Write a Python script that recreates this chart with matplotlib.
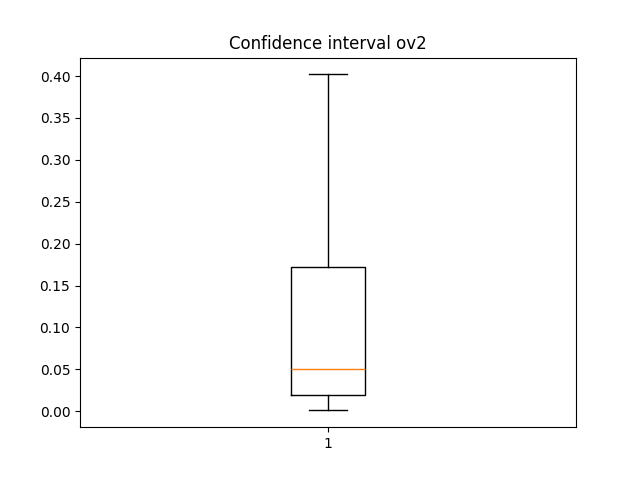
import matplotlib
import matplotlib.pyplot as plt

matplotlib.use('Agg')

# box statistics
labels = ["1"]
whisker_low = [0.001]
q1 = [0.019]
median = [0.051]
q3 = [0.172]
whisker_high = [0.402]

stats = []
for i in range(len(labels)):
    stats.append({
        "label": labels[i],
        "whislo": whisker_low[i],
        "q1": q1[i],
        "med": median[i],
        "q3": q3[i],
        "whishi": whisker_high[i],
        "fliers": [],
    })

fig, ax = plt.subplots(figsize=(6.4, 4.8), dpi=100)
ax.bxp(stats)
ax.set_title("Confidence interval ov2")
fig.savefig("out.png")
plt.close(fig)
